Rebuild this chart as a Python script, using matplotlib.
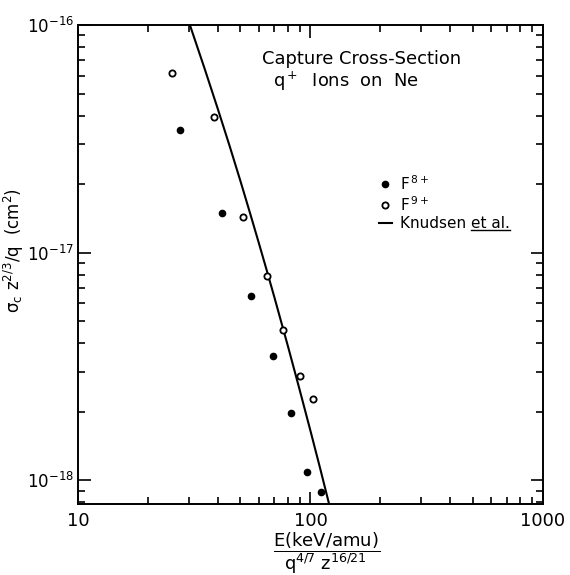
import numpy as np
import matplotlib
matplotlib.use("Agg")
import matplotlib.pyplot as plt
from matplotlib.lines import Line2D
from matplotlib.ticker import FixedLocator, FixedFormatter

# values
# F8+ (filled)
e_f8 = [27.5, 41.5, 55.5, 68.8, 82.4, 96.9, 111.0]
s_f8 = [3.45e-17, 1.49e-17, 6.48e-18, 3.53e-18, 1.98e-18, 1.09e-18, 8.87e-19]
# F9+ (open)
e_f9 = [25.3, 38.3, 51.1, 64.8, 76.4, 90.1, 102.2]
s_f9 = [6.14e-17, 3.95e-17, 1.44e-17, 7.86e-18, 4.58e-18, 2.88e-18, 2.28e-18]
# Knudsen et al. curve (read and smoothed by eye)
e_kn = [30.3, 35, 40, 45, 50, 55, 60, 65, 70, 80, 90, 100, 110, 120.5]
s_kn = [1.0e-16, 6.46e-17, 4.26e-17, 2.92e-17, 2.06e-17, 1.488e-17, 1.10e-17,
        8.29e-18, 6.35e-18, 3.88e-18, 2.48e-18, 1.648e-18, 1.13e-18, 7.80e-19]

xticks = [10, 100, 1000]
xticklabels = ['10', '100', '1000']
yticks = [1e-18, 1e-17, 1e-16]
yticklabels = ['$10^{-18}$', '$10^{-17}$', '$10^{-16}$']

plt.rcParams['mathtext.default'] = 'regular'
plt.rcParams['font.family'] = 'DejaVu Sans'

fig = plt.figure(figsize=(5.7, 5.75), dpi=100)
ax = fig.add_axes([0.1368, 0.1235, 0.8158, 0.833])

ax.plot(e_kn, s_kn, color='black', lw=1.5, label='Knudsen et al.')
ax.plot(e_f8, s_f8, 'o', color='black', ms=4.5, ls='none', label='F$^{\\,8+}$')
ax.plot(e_f9, s_f9, 'o', mfc='white', mec='black', mew=1.3, ms=4.5, ls='none',
        label='F$^{\\,9+}$')

ax.set_xscale('log')
ax.set_yscale('log')
ax.set_xlim(10, 1000)
ax.set_ylim(7.87e-19, 1e-16)

ax.xaxis.set_major_locator(FixedLocator(xticks))
ax.xaxis.set_major_formatter(FixedFormatter(xticklabels))
ax.yaxis.set_major_locator(FixedLocator(yticks))
ax.yaxis.set_major_formatter(FixedFormatter(yticklabels))

for sp in ax.spines.values():
    sp.set_linewidth(1.4)
ax.tick_params(which='both', direction='in', top=True, right=True, width=1.2)
ax.tick_params(which='major', length=9)
ax.tick_params(which='minor', length=5)
ax.tick_params(axis='x', labelsize=13, pad=6)
ax.tick_params(axis='y', labelsize=12, pad=3)

ax.set_ylabel('$\\sigma_c\\ z^{2/3}/q\\ \\ (cm^2)$', fontsize=12)
ax.yaxis.set_label_coords(-0.112, 0.53)
ax.set_xlabel('$\\dfrac{E(keV/amu)}{q^{4/7}\\ z^{16/21}}$', fontsize=13)
ax.xaxis.set_label_coords(0.535, -0.055)

ax.text(0.396, 0.928, 'Capture Cross-Section', transform=ax.transAxes,
        fontsize=12.9, ha='left', va='center')
ax.text(0.42, 0.882, 'q$^+$  Ions  on  Ne', transform=ax.transAxes,
        fontsize=12.9, ha='left', va='center')

h, l = ax.get_legend_handles_labels()
leg = ax.legend([h[1], h[2], h[0]], [l[1], l[2], l[0]], loc='upper left',
                bbox_to_anchor=(0.630, 0.705), frameon=False, fontsize=11,
                handlelength=0.9, handletextpad=0.5, labelspacing=0.15,
                borderpad=0)

# underline "et al."
fig.canvas.draw()
r = fig.canvas.get_renderer()
t = leg.get_texts()[2]
bb = t.get_window_extent(r)
tmp = fig.text(0, 0, 'Knudsen ', fontsize=11)
w = tmp.get_window_extent(r).width
tmp.remove()
inv = fig.transFigure.inverted()
(x0, y0) = inv.transform((bb.x0 + w, bb.y0 + 1))
(x1, _) = inv.transform((bb.x1, bb.y0 + 1))
fig.add_artist(Line2D([x0, x1], [y0, y0], transform=fig.transFigure,
                      color='black', lw=1.0))

fig.savefig('out.png', dpi=100)
